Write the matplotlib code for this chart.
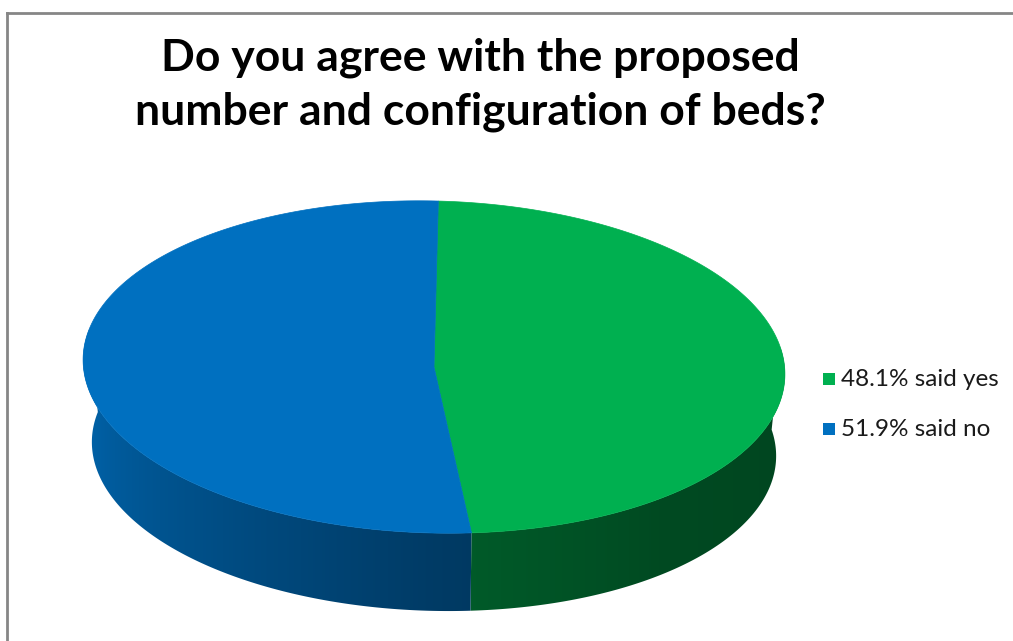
import numpy as np
import matplotlib
matplotlib.use("Agg")
import matplotlib.pyplot as plt
from matplotlib.patches import Polygon, Rectangle
from matplotlib.lines import Line2D
from matplotlib.colors import to_rgb

# survey answers
labels = ["48.1% said yes", "51.9% said no"]
shares = [48.1, 51.9]
colors = ["#00b050", "#0070c0"]
title_lines = ["Do you agree with the proposed", "number and configuration of beds?"]

W, H = 1013, 641
fig = plt.figure(figsize=(W / 100, H / 100), dpi=100)
ax = fig.add_axes([0, 0, 1, 1])
ax.set_xlim(0, W)
ax.set_ylim(H, 0)
ax.axis("off")

# chart area border (top and left edges)
ax.add_line(Line2D([7, W], [13, 13], color="#868686", lw=2))
ax.add_line(Line2D([7, 7], [13, H], color="#868686", lw=2))

# 3-D pie geometry, in pixels
cx, cy, a, b = 434, 367, 351, 166
tilt = np.radians(1.5)
depth, shrink = 82, 0.975


def top_pt(t):
    # t: degrees clockwise from 12 o'clock
    r = np.radians(t)
    dx, dy = a * np.sin(r), -b * np.cos(r)
    return (cx + dx * np.cos(tilt) - dy * np.sin(tilt),
            cy + dx * np.sin(tilt) + dy * np.cos(tilt))


def bot_pt(t):
    x, y = top_pt(t)
    return cx + (x - cx) * shrink, cy + depth + (y - cy) * shrink


def light(t):
    return np.interp(t, [80, 90, 140, 180, 220, 270, 280],
                     [0.38, 0.39, 0.42, 0.53, 0.70, 0.92, 0.92])


fracs = np.array(shares) / sum(shares)
bounds = np.concatenate([[0], np.cumsum(fracs) * 360])

# side wall: front half only, shaded left to right
xs = np.arange(0, W)
t_of_x = 180 - np.degrees(np.arcsin(np.clip((xs - cx) / a, -1, 1)))
for i, col in enumerate(colors):
    t0, t1 = max(bounds[i], 80), min(bounds[i + 1], 280)
    if t1 <= t0:
        continue
    ts = np.linspace(t0, t1, 300)
    pts = [top_pt(t) for t in ts] + [bot_pt(t) for t in ts[::-1]]
    poly = Polygon(pts, closed=True, facecolor="none", edgecolor="none")
    ax.add_patch(poly)
    shade = np.clip(np.array(to_rgb(col))[None, :] * light(t_of_x)[:, None], 0, 1)
    img = np.repeat(shade[None, :, :], 2, axis=0)
    im = ax.imshow(img, extent=(0, W, H, 0), aspect="auto", interpolation="bilinear")
    im.set_clip_path(poly)

# top face
for i, col in enumerate(colors):
    ts = np.linspace(bounds[i], bounds[i + 1], 300)
    pts = [(cx, cy)] + [top_pt(t) for t in ts]
    ax.add_patch(Polygon(pts, closed=True, facecolor=col, edgecolor=col, lw=0.5, zorder=3))

ax.set_xlim(0, W)
ax.set_ylim(H, 0)

# title
for k, line in enumerate(title_lines):
    ax.text(480, 70 + 55 * k, line, ha="center", va="baseline",
            fontsize=32, fontweight="bold", family="Lato", color="black", zorder=5)

# legend
for k, (lab, col) in enumerate(zip(labels, colors)):
    y = 379 + 50 * k
    ax.add_patch(Rectangle((823, y - 6), 12, 12, facecolor=col, edgecolor="none", zorder=5))
    ax.text(841, y, lab, ha="left", va="center", fontsize=17.5, family="Lato",
            color="#1a1a1a", zorder=5)

fig.savefig("out.png", dpi=100, facecolor="white")
